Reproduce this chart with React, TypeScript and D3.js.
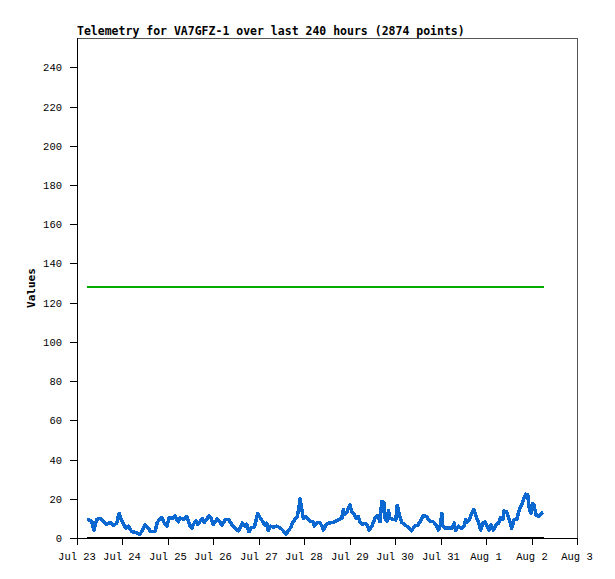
import { useMemo } from "react";
import { line as d3Line, scaleLinear, scaleTime, timeDay, timeFormat } from "d3";

// hours since Jul 23 00:00, value
const telemetry: Array<[number, number]> = [
  [5.4, 9.8], [7.8, 8.3], [9.0, 4], [10.4, 9.5], [12.5, 10], [13.9, 8.3],
  [15.7, 7], [17.4, 8], [19.2, 6.3], [21.0, 7.6], [22.2, 12.6], [23.1, 10],
  [24.4, 7.6], [25.7, 5], [27.1, 6], [28.9, 3.2], [31.5, 2.7], [32.9, 1.9],
  [34.2, 3.2], [35.9, 6.8], [37.6, 5], [38.9, 3.2], [41.2, 3.2], [42.4, 8],
  [43.8, 9.5], [44.7, 10.5], [46.1, 7.6], [47.4, 6], [48.7, 10.4], [50.5, 10],
  [51.7, 11.4], [52.6, 9.5], [53.5, 8.3], [54.4, 10.3], [56.1, 9.5], [57.9, 11],
  [59.7, 6], [60.6, 5], [61.4, 6.8], [62.7, 8.7], [63.7, 7], [64.9, 8.3],
  [66.2, 10], [67.2, 8], [68.5, 9.5], [69.7, 11.4], [70.8, 10], [72.0, 6.8],
  [72.9, 8.3], [74.1, 9.7], [75.1, 8.7], [76.4, 6.5], [77.2, 7.6], [78.5, 9.5],
  [79.9, 9.5], [80.8, 8.3], [82.0, 6.5], [83.4, 5], [85.2, 3.7], [86.1, 5],
  [87.3, 7.6], [88.7, 6], [89.6, 7], [90.8, 3.2], [91.9, 5.3], [93.6, 5.6],
  [94.5, 8.7], [95.4, 12.6], [96.6, 10.5], [97.8, 8.7], [99.3, 6.5], [100.2, 7.6],
  [101.0, 3.7], [102.3, 6], [103.7, 5.6], [105.4, 6], [107.2, 5.3], [108.6, 4],
  [110.4, 1.9], [111.6, 3.7], [112.8, 5.3], [113.9, 8], [115.1, 9.5], [116.3, 11],
  [117.2, 15.3], [117.7, 20], [118.6, 15.3], [119.5, 10], [120.8, 11], [121.8, 10],
  [123.0, 8.7], [124.5, 8.3], [125.3, 6], [126.6, 7.6], [127.9, 8], [129.2, 6.5],
  [130.1, 4], [131.5, 6.8], [132.7, 7.6], [135.3, 8], [138.0, 9.2], [139.8, 10],
  [140.6, 14.5], [141.5, 12], [142.7, 13.6], [144.1, 17], [145.0, 13.6], [146.3, 12],
  [147.3, 10], [148.5, 11], [149.4, 8], [150.9, 7], [152.1, 7.5], [153.3, 6.5],
  [154.3, 4], [155.9, 6.5], [157.3, 10], [158.6, 11.4], [160.0, 8.3], [160.9, 18.7],
  [162.1, 18], [162.6, 10], [163.8, 8.7], [164.4, 13.9], [165.3, 10], [167.0, 9.5],
  [168.3, 9.2], [169.1, 16.7], [170.2, 12], [171.4, 8], [172.8, 7], [174.1, 6],
  [175.5, 5], [176.7, 3.7], [178.1, 6], [179.9, 6.5], [181.1, 8.3], [182.9, 11.4],
  [184.6, 11], [186.0, 8.7], [188.1, 8.3], [189.4, 7], [190.8, 4], [192.0, 6.8],
  [192.6, 12.6], [193.1, 6], [194.3, 5], [196.0, 5], [197.8, 5], [199.2, 7.6],
  [199.9, 3.7], [201.3, 6], [203.1, 5], [204.5, 6.3], [205.2, 9.2], [205.8, 7.8],
  [207.1, 9.2], [208.4, 12.6], [209.6, 14.6], [210.7, 10.9], [211.9, 8.3], [213.2, 4],
  [214.2, 7.5], [215.4, 8.3], [216.6, 5.8], [217.7, 4], [218.6, 6.6], [219.8, 4],
  [221.2, 6.6], [222.5, 7.5], [223.7, 10.5], [224.8, 9.5], [225.5, 13.8], [226.9, 13.4],
  [228.3, 9.2], [229.5, 4.9], [230.7, 9.2], [232.2, 9.5], [233.5, 14.3], [234.8, 16.8],
  [235.7, 19.4], [236.9, 22.4], [238.0, 21.9], [238.8, 15.1], [239.7, 12.6], [240.6, 17.7],
  [241.3, 16.8], [242.4, 11.7], [243.6, 10.9], [244.5, 11.7], [245.4, 12.6], [246.2, 13],
];

// flat channels over the same window
const flatHours = [5.2, 246.4];
const levelValue = 128;
const zeroValue = 0;

const yTickValues = [0, 20, 40, 60, 80, 100, 120, 140, 160, 180, 200, 220, 240];
const title = "Telemetry for VA7GFZ-1 over last 240 hours (2874 points)";
const yLabel = "Values";

const start = new Date(2023, 6, 23);
const end = new Date(2023, 7, 3);
const toDate = (h: number) => new Date(start.getTime() + h * 3600 * 1000);

const width = 615;
const height = 579;
const margin = { top: 38, right: 38, bottom: 41, left: 77 };
const boldFont = "'DejaVu Sans Mono', 'Liberation Mono', monospace";
const tickFont = "'Liberation Mono', 'DejaVu Sans Mono', monospace";

export default function App() {
  const computed = useMemo(() => {
    const xScale = scaleTime()
      .domain([start, end])
      .range([margin.left, width - margin.right]);
    const yScale = scaleLinear()
      .domain([0, 255])
      .range([height - margin.bottom, margin.top]);

    const lineGen = d3Line<[number, number]>()
      .x((d) => xScale(toDate(d[0])))
      .y((d) => yScale(d[1]));

    const flat = (v: number) =>
      lineGen(flatHours.map((h) => [h, v] as [number, number])) ?? "";

    const fmt = timeFormat("%b %-d");
    const xTicks = xScale
      .ticks(timeDay.every(1)!)
      .map((t) => ({ label: fmt(t), x: xScale(t) }));

    return {
      yScale,
      blue: lineGen(telemetry) ?? "",
      green: flat(levelValue),
      black: flat(zeroValue),
      xTicks,
    };
  }, []);

  const { yScale, blue, green, black, xTicks } = computed;
  const x0 = margin.left;
  const x1 = width - margin.right;
  const y0 = height - margin.bottom;
  const y1 = margin.top;

  return (
    <svg
      width={width}
      height={height}
      style={{ position: "absolute", left: 0, top: 0, background: "#fff" }}
    >
      <text
        x={x0}
        y={35}
        fontFamily={boldFont}
        fontWeight="bold"
        fontSize={11.5}
        fill="#000"
      >
        {title}
      </text>

      {/* frame */}
      <line x1={x0} x2={x1} y1={y1 + 0.5} y2={y1 + 0.5} stroke="#555" shapeRendering="crispEdges" />
      <line x1={x1 + 0.5} x2={x1 + 0.5} y1={y1} y2={y0} stroke="#555" shapeRendering="crispEdges" />

      <path d={green} fill="none" stroke="#00aa00" strokeWidth={2} shapeRendering="crispEdges" />
      <path d={blue} fill="none" stroke="#0a68d0" strokeWidth={3.5} strokeLinejoin="round" shapeRendering="crispEdges" />
      <path d={black} fill="none" stroke="#000" strokeWidth={2.5} shapeRendering="crispEdges" />

      {/* axes */}
      <line x1={x0 + 0.5} x2={x0 + 0.5} y1={y1} y2={y0 + 7} stroke="#000" shapeRendering="crispEdges" />
      <line x1={x0 - 7} x2={x1} y1={y0 + 0.5} y2={y0 + 0.5} stroke="#000" shapeRendering="crispEdges" />

      {yTickValues.map((v) => (
        <g key={`y-${v}`} transform={`translate(${x0}, ${Math.round(yScale(v))})`}>
          <line x1={-7} x2={0} y1={0.5} y2={0.5} stroke="#000" shapeRendering="crispEdges" />
          <text
            x={-15}
            dy={4}
            textAnchor="end"
            fontFamily={tickFont}
            fontSize={10.5}
            fill="#000"
          >
            {v}
          </text>
        </g>
      ))}

      {xTicks.map(({ label, x }) => (
        <g key={`x-${label}`} transform={`translate(${Math.round(x)}, ${y0})`}>
          <line x1={0.5} x2={0.5} y1={0} y2={7} stroke="#000" shapeRendering="crispEdges" />
          <text
            y={22}
            textAnchor="middle"
            fontFamily={tickFont}
            fontSize={10.5}
            fill="#000"
          >
            {label}
          </text>
        </g>
      ))}

      <text
        transform={`translate(35, ${(y0 + y1) / 2}) rotate(-90)`}
        textAnchor="middle"
        fontFamily={boldFont}
        fontWeight="bold"
        fontSize={11}
        fill="#000"
      >
        {yLabel}
      </text>
    </svg>
  );
}
